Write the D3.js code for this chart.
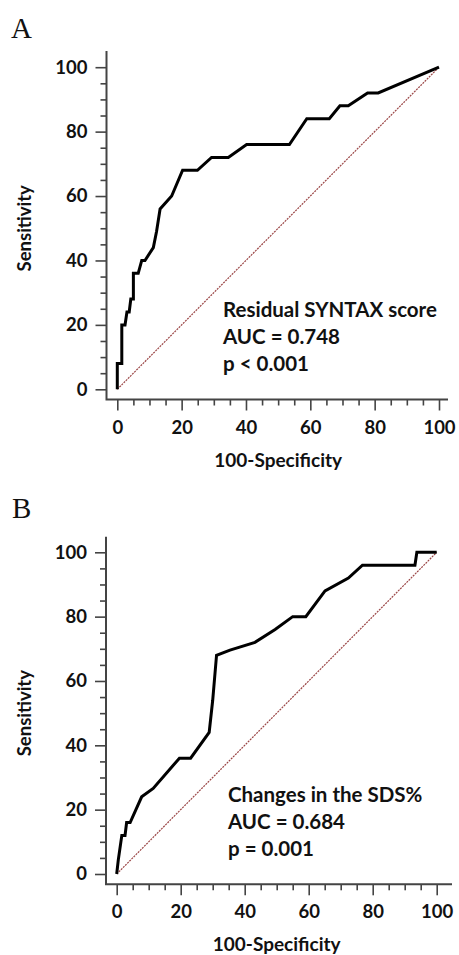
<!DOCTYPE html>
<html>
<head>
<meta charset="utf-8">
<script src="https://cdn.jsdelivr.net/npm/d3@7"></script>
<style>
  body { margin: 0; background: #fff; }
  text { font-family: Lato, "Open Sans", sans-serif; font-weight: bold; fill: #111; }
  .letter { font-family: "Liberation Serif", "DejaVu Serif", serif; font-weight: normal; }
</style>
</head>
<body>
<div id="chart"></div>
<script>
// ROC curve A: Residual SYNTAX score (100-specificity, sensitivity)
const rocA_x = [0, 0, 1.4, 1.4, 2.4, 3, 3.7, 4.2, 5, 5, 6.5, 7.6, 8.6, 11.2, 12.2, 13.3, 16.9, 20.3, 24.9, 29.3, 34.5, 40.2, 53.5, 58.9, 65.9, 69.2, 71.8, 77.8, 81.1, 100];
const rocA_y = [0, 8, 8, 20, 20, 24, 24, 28, 28, 36, 36, 40, 40, 44, 49, 56, 60, 68, 68, 72, 72, 76, 76, 84, 84, 88, 88, 92, 92, 100];

// ROC curve B: Changes in the SDS%
const rocB_x = [0, 0.5, 1.6, 2.6, 3.1, 4.2, 7.8, 11.4, 19.6, 23.1, 28.9, 30, 31.2, 35.4, 43.2, 49.5, 55, 59.1, 65.1, 72.4, 76.8, 93.2, 93.8, 100];
const rocB_y = [0, 4.4, 12, 12, 16, 16, 24, 26.6, 36, 36, 44, 54, 68, 69.6, 72, 76, 80, 80, 88, 92, 96, 96, 100, 100];

const majorTicks = [0, 20, 40, 60, 80, 100];
const minorTicks = [5, 10, 15, 25, 30, 35, 45, 50, 55, 65, 70, 75, 85, 90, 95];

const letters = ['A', 'B'];
const notesA = ['Residual SYNTAX score', 'AUC = 0.748', 'p < 0.001'];
const notesB = ['Changes in the SDS%', 'AUC = 0.684', 'p = 0.001'];
const xTitle = '100-Specificity';
const yTitle = 'Sensitivity';

const svg = d3.select('#chart')
  .append('svg')
  .attr('width', 459)
  .attr('height', 955);

render = (p) => {
  const x = d3.scaleLinear().domain([0, 100]).range([p.left, p.right]);
  const y = d3.scaleLinear().domain([0, 100]).range([p.bottom, p.top]);

  const g = svg.append('g');

  g.append('text')
    .attr('class', 'letter')
    .attr('x', p.letterX)
    .attr('y', p.letterY)
    .style('font-size', '29px')
    .text(p.letter);

  // diagonal reference line
  g.append('line')
    .attr('x1', x(0)).attr('y1', y(0))
    .attr('x2', x(100)).attr('y2', y(100))
    .attr('stroke', '#9a4545')
    .attr('stroke-width', 1.2)
    .attr('stroke-dasharray', '2,1');

  // minor ticks
  g.append('g')
    .attr('transform', `translate(${p.spineX},0)`)
    .call(d3.axisLeft(y).tickValues(minorTicks).tickSize(6).tickFormat(''))
    .call(a => a.select('.domain').remove());
  g.append('g')
    .attr('transform', `translate(0,${p.spineY})`)
    .call(d3.axisBottom(x).tickValues(minorTicks).tickSize(6).tickFormat(''))
    .call(a => a.select('.domain').remove());

  // major ticks + labels
  g.append('g')
    .attr('transform', `translate(${p.spineX},0)`)
    .call(d3.axisLeft(y).tickValues(majorTicks).tickSize(11).tickPadding(8))
    .call(a => a.select('.domain').remove());
  g.append('g')
    .attr('transform', `translate(0,${p.spineY})`)
    .call(d3.axisBottom(x).tickValues(majorTicks).tickSize(11).tickPadding(10))
    .call(a => a.select('.domain').remove());

  g.selectAll('.tick line').attr('stroke', '#444').attr('stroke-width', 1.6);
  g.selectAll('.tick text')
    .attr('fill', '#111')
    .style('font-family', 'Lato, sans-serif')
    .style('font-weight', 'bold')
    .style('font-size', '18.5px');

  // spines
  g.append('path')
    .attr('d', `M${p.spineX},${p.axisTop}V${p.spineY}H${p.axisRight}`)
    .attr('fill', 'none')
    .attr('stroke', '#444')
    .attr('stroke-width', 2);

  const line = d3.line().x(d => x(d[0])).y(d => y(d[1]));
  g.append('path')
    .datum(d3.zip(p.xs, p.ys))
    .attr('d', line)
    .attr('fill', 'none')
    .attr('stroke', '#000')
    .attr('stroke-width', 3)
    .attr('stroke-linejoin', 'miter');

  g.selectAll('text.note')
    .data(p.notes)
    .enter().append('text')
    .attr('class', 'note')
    .attr('x', p.noteX)
    .attr('y', (d, i) => p.noteY + i * 27)
    .style('font-size', '20.5px')
    .text(d => d);

  g.append('text')
    .attr('x', (p.left + p.right) / 2)
    .attr('y', p.spineY + 67)
    .attr('text-anchor', 'middle')
    .style('font-size', '19px')
    .text(xTitle);

  g.append('text')
    .attr('transform', `translate(31,${(p.top + p.bottom) / 2}) rotate(-90)`)
    .attr('text-anchor', 'middle')
    .style('font-size', '18.5px')
    .text(yTitle);
};

render({
  letter: letters[0], letterX: 11, letterY: 38,
  xs: rocA_x, ys: rocA_y, notes: notesA,
  left: 117.3, right: 439, top: 67.2, bottom: 389.3,
  spineX: 106.5, spineY: 399.5, axisTop: 51, axisRight: 448,
  noteX: 223, noteY: 317
});

render({
  letter: letters[1], letterX: 12, letterY: 518,
  xs: rocB_x, ys: rocB_y, notes: notesB,
  left: 116.7, right: 436.7, top: 552.3, bottom: 874,
  spineX: 106, spineY: 884.3, axisTop: 536.7, axisRight: 452,
  noteX: 228, noteY: 802
});
</script>
</body>
</html>
